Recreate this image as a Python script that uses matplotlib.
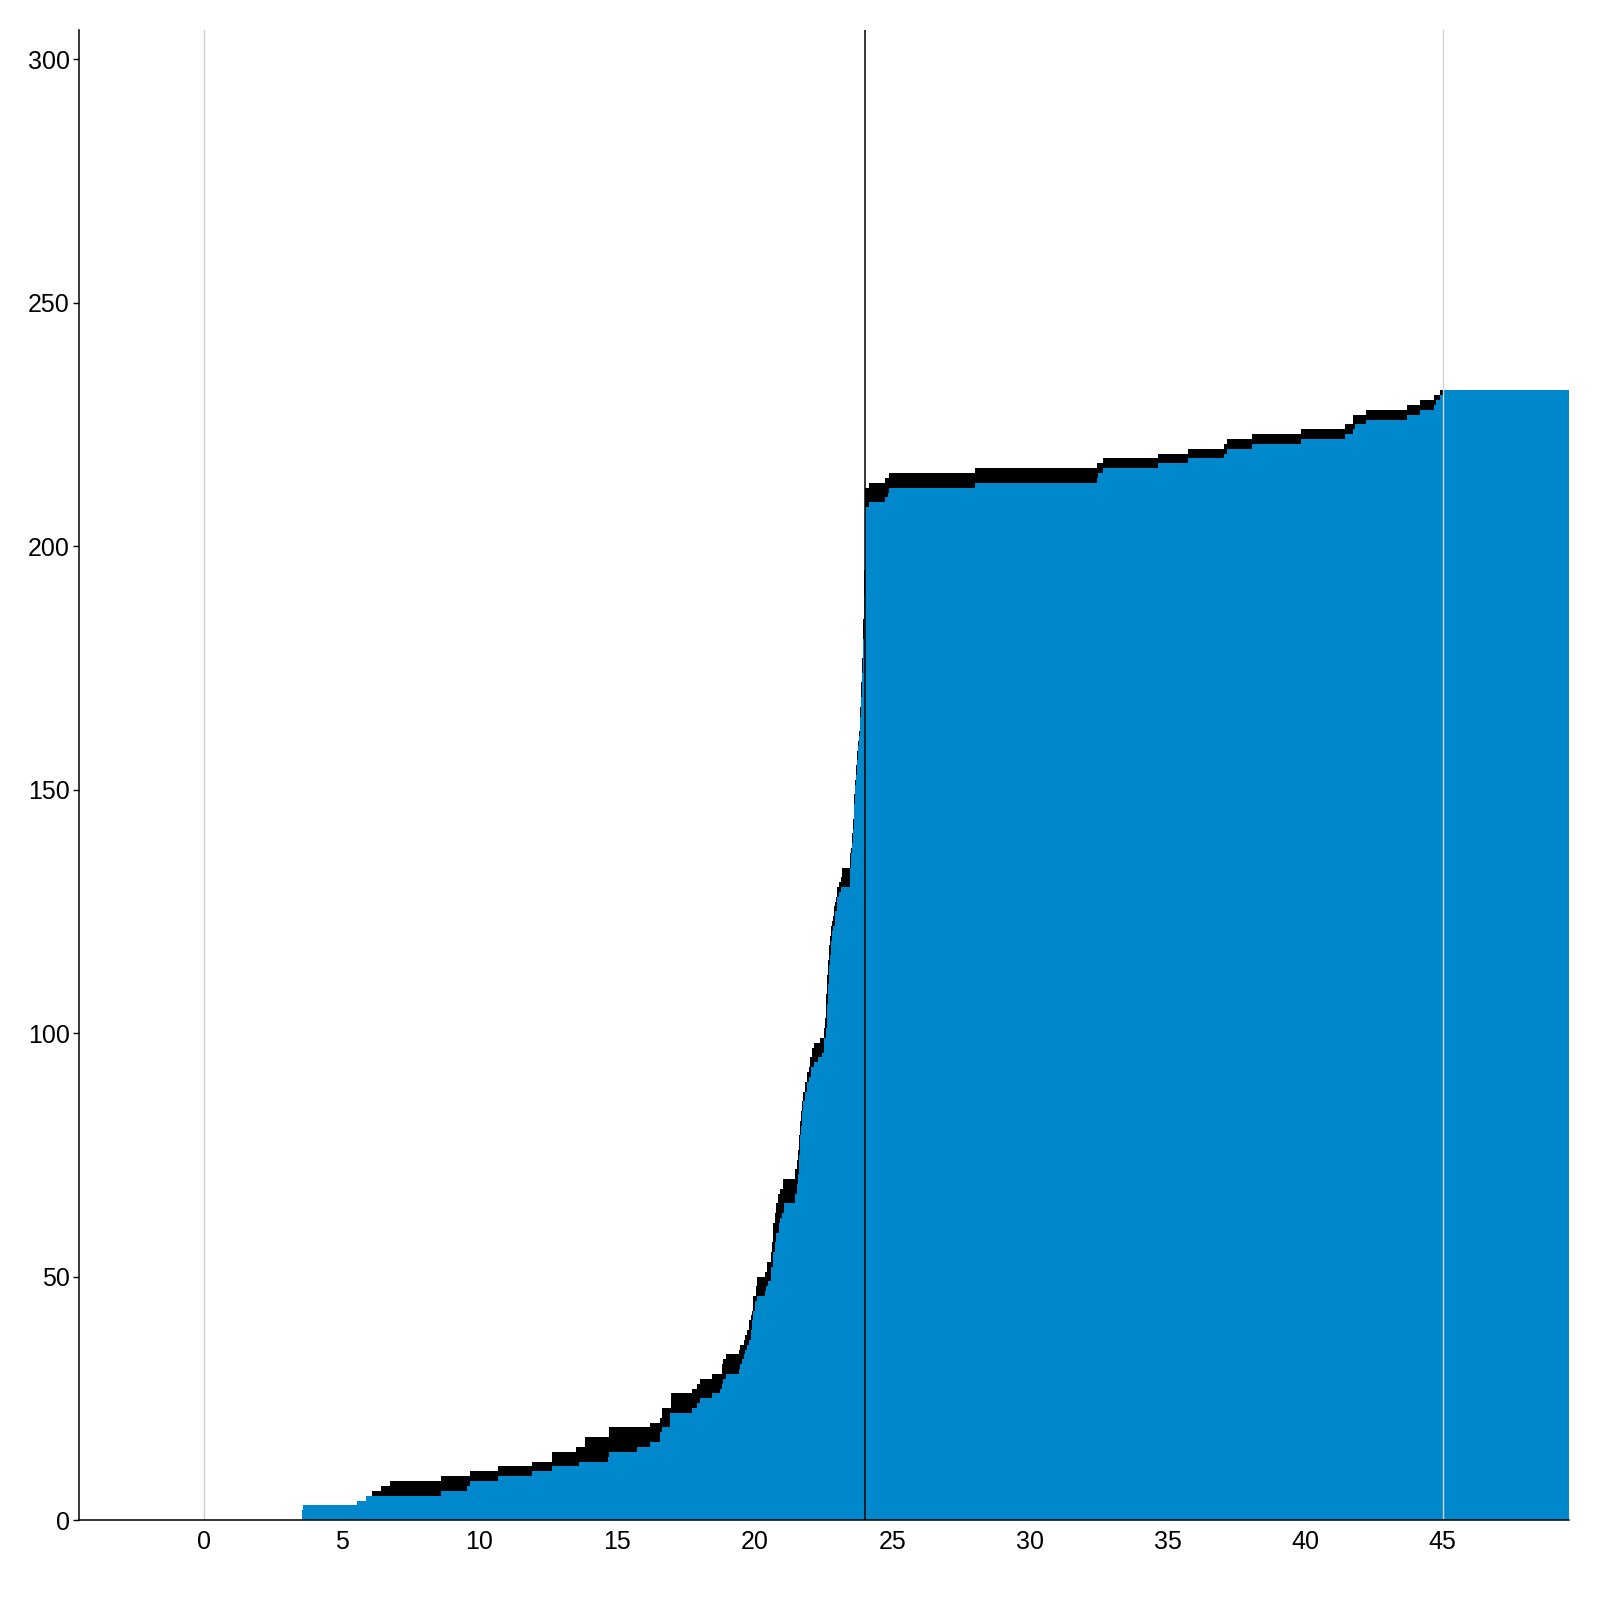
import matplotlib
matplotlib.use("Agg")
import matplotlib.pyplot as plt

plt.rcParams['font.family'] = ['Liberation Sans', 'DejaVu Sans']

# lower series (blue), cumulative count, value holds from each x until the next
blue_x = [3.54, 3.60, 5.56, 5.88, 8.60, 9.55, 9.66, 10.67, 11.91, 12.64, 13.62, 14.68, 14.71, 15.73,
          16.20, 16.57, 16.64, 16.93, 17.73, 17.90, 18.00, 18.45, 18.74, 18.81, 18.85, 18.96, 19.43,
          19.47, 19.55, 19.61, 19.65, 19.72, 19.79, 19.87, 19.90, 19.94, 20.01, 20.09, 20.38, 20.41,
          20.50, 20.60, 20.67, 20.74, 20.78, 20.89, 20.92, 21.00, 21.07, 21.47, 21.54, 21.58, 21.62,
          21.65, 21.69, 21.72, 21.76, 21.83, 21.90, 21.98, 22.05, 22.16, 22.30, 22.45, 22.52, 22.59,
          22.63, 22.67, 22.70, 22.74, 22.78, 22.81, 22.85, 22.92, 22.99, 23.07, 23.14, 23.47, 23.50,
          23.54, 23.58, 23.61, 23.65, 23.69, 23.72, 23.76, 23.79, 23.83, 23.87, 23.90, 23.94, 23.98,
          24.00, 24.02, 24.16, 24.74, 24.84, 24.88, 28.00, 32.44, 32.49, 32.66, 34.66, 35.75, 37.05,
          37.16, 38.07, 39.85, 41.45, 41.74, 41.82, 42.22, 43.71, 44.18, 44.69, 44.76, 44.90, 45.00]
blue_n = [2, 3, 4, 5, 6, 7, 8, 9, 10, 11, 12, 13, 14, 15,
          16, 18, 19, 22, 23, 24, 25, 26, 27, 28, 29, 30, 31,
          32, 33, 34, 35, 36, 37, 39, 41, 43, 45, 46, 47, 48,
          49, 52, 55, 57, 59, 61, 62, 63, 65, 67, 69, 71, 75,
          79, 81, 84, 86, 88, 90, 91, 93, 94, 95, 96, 99, 101,
          106, 110, 114, 116, 119, 121, 122, 125, 128, 129, 130, 134, 137,
          139, 142, 147, 151, 153, 156, 159, 161, 165, 169, 174, 181, 190,
          194, 208, 209, 210, 211, 212, 213, 214, 215, 216, 217, 218, 219,
          220, 221, 222, 223, 224, 225, 226, 227, 228, 229, 230, 231, 232]

# upper series (black band on top)
black_x = [3.54, 3.60, 5.56, 5.88, 6.10, 6.42, 6.75, 8.60, 9.66, 10.67, 11.91, 12.64, 13.51, 13.84,
           14.71, 16.20, 16.57, 16.64, 16.97, 17.73, 17.90, 18.00, 18.45, 18.81, 18.85, 18.96, 19.43,
           19.47, 19.61, 19.65, 19.72, 19.79, 19.87, 19.90, 19.94, 20.03, 20.07, 20.38, 20.45, 20.60,
           20.63, 20.67, 20.74, 20.78, 20.85, 20.92, 21.03, 21.47, 21.54, 21.58, 21.62, 21.65, 21.69,
           21.72, 21.76, 21.83, 21.90, 21.98, 22.01, 22.09, 22.16, 22.36, 22.52, 22.56, 22.59, 22.63,
           22.67, 22.70, 22.74, 22.78, 22.81, 22.85, 22.89, 22.92, 22.96, 22.99, 23.07, 23.14, 23.18,
           23.47, 23.50, 23.54, 23.58, 23.61, 23.65, 23.69, 23.72, 23.76, 23.79, 23.83, 23.87, 23.90,
           23.94, 23.98, 24.00, 24.02, 24.16, 24.74, 24.88, 28.00, 32.44, 32.66, 34.66, 35.75, 37.05,
           37.16, 38.07, 39.85, 41.45, 41.74, 42.22, 43.71, 44.18, 44.69, 44.90]
black_n = [2, 3, 4, 5, 6, 7, 8, 9, 10, 11, 12, 14, 15, 17,
           19, 20, 21, 23, 26, 27, 28, 29, 30, 32, 33, 34, 35,
           36, 37, 38, 39, 41, 42, 43, 46, 48, 50, 51, 53, 55,
           57, 61, 63, 65, 67, 68, 70, 72, 74, 76, 79, 82, 84,
           86, 88, 90, 92, 93, 95, 97, 98, 99, 101, 103, 108, 112,
           115, 118, 120, 122, 123, 124, 126, 127, 128, 130, 131, 132, 134,
           137, 138, 141, 144, 149, 152, 155, 158, 160, 162, 167, 172, 177,
           185, 195, 199, 212, 213, 214, 215, 216, 217, 218, 219, 220, 221,
           222, 223, 224, 225, 227, 228, 229, 230, 231, 232]
black_end = 45.0
blue_end = 49.6

xticks = [0, 5, 10, 15, 20, 25, 30, 35, 40, 45]
yticks = [0, 50, 100, 150, 200, 250, 300]

fig = plt.figure(figsize=(16, 16), dpi=100)
ax = fig.add_axes([0.0496, 0.05, 0.931, 0.93125])

ax.axvline(0, color='#cccccc', lw=1, zorder=0.5)
ax.stairs(black_n, black_x + [black_end], fill=True, color='black', baseline=0, zorder=1)
ax.stairs(blue_n, blue_x + [blue_end], fill=True, color='#0088cc', baseline=0, zorder=2)
ax.axvline(24, color='black', lw=1.1, zorder=3)
ax.axvline(45, color='#d4d4d4', lw=1, zorder=3)

ax.set_xlim(-4.54, 49.59)
ax.set_ylim(0, 306)
ax.set_xticks(xticks)
ax.set_yticks(yticks)
ax.tick_params(axis='x', length=0, pad=7, labelsize=18)
ax.tick_params(axis='y', length=4, width=1, pad=3, labelsize=18)
ax.spines['top'].set_visible(False)
ax.spines['right'].set_visible(False)
for s in ['left', 'bottom']:
    ax.spines[s].set_linewidth(1.1)
    ax.spines[s].set_zorder(4)

fig.savefig('out.png', dpi=100)
